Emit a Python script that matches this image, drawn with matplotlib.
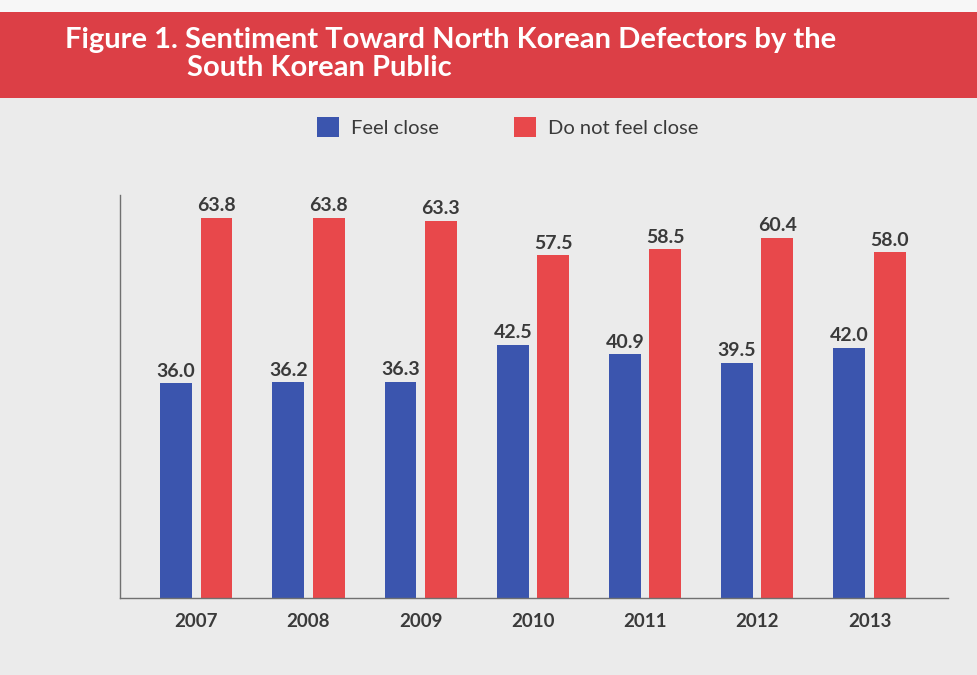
import matplotlib.pyplot as plt
import numpy as np
from matplotlib.patches import Rectangle

years = ['2007', '2008', '2009', '2010', '2011', '2012', '2013']
feel_close = [36.0, 36.2, 36.3, 42.5, 40.9, 39.5, 42.0]
not_close = [63.8, 63.8, 63.3, 57.5, 58.5, 60.4, 58.0]

blue = '#3b55ae'
red = '#e8484b'
text_col = '#3a3a3a'

plt.rcParams['font.family'] = ['Lato', 'DejaVu Sans']

fig = plt.figure(figsize=(9.78, 6.75), dpi=100)
fig.patch.set_facecolor('#ebebeb')

# red title banner
fig.patches.append(Rectangle((0, 1 - 98 / 675), 1, 86 / 675, transform=fig.transFigure,
                             facecolor='#dc3f46', edgecolor='none', zorder=0))
fig.patches.append(Rectangle((0, 1 - 12 / 675), 1, 12 / 675, transform=fig.transFigure,
                             facecolor='#f7f7f7', edgecolor='none', zorder=0))
fig.text(65 / 978, 1 - 40 / 675, 'Figure 1. Sentiment Toward North Korean Defectors by the',
         color='white', fontsize=21, fontweight='bold', va='center', ha='left')
fig.text(187 / 978, 1 - 68 / 675, 'South Korean Public',
         color='white', fontsize=21, fontweight='bold', va='center', ha='left')

ax = fig.add_axes([120 / 978, 1 - 598 / 675, 828 / 978, 403 / 675])
ax.set_facecolor('none')

x = np.arange(len(years))
w = 0.285
b1 = ax.bar(x - 0.18, feel_close, w, color=blue, label='Feel close')
b2 = ax.bar(x + 0.18, not_close, w, color=red, label='Do not feel close')

for bars, vals in ((b1, feel_close), (b2, not_close)):
    for rect, v in zip(bars, vals):
        ax.text(rect.get_x() + rect.get_width() / 2, v + 0.6, f'{v:.1f}',
                ha='center', va='bottom', fontsize=14, fontweight='bold', color=text_col)

ax.set_xlim(-0.68, 6.7)
ax.set_ylim(0, 67.6)
ax.set_xticks(x)
ax.set_xticklabels(years, fontsize=13.5, fontweight='bold', color=text_col)
ax.tick_params(axis='x', length=0, pad=11)
ax.set_yticks([])
for s in ('top', 'right'):
    ax.spines[s].set_visible(False)
for s in ('left', 'bottom'):
    ax.spines[s].set_color('#707070')
    ax.spines[s].set_linewidth(1)

leg = fig.legend(handles=[b1, b2], loc='center', bbox_to_anchor=(0.519, 1 - 127 / 675),
                 ncol=2, frameon=False, fontsize=14.5, handlelength=1.1, handleheight=1.1,
                 columnspacing=3.7, handletextpad=0.6)
for t in leg.get_texts():
    t.set_color(text_col)

fig.savefig('out.png', dpi=100, facecolor=fig.get_facecolor())
